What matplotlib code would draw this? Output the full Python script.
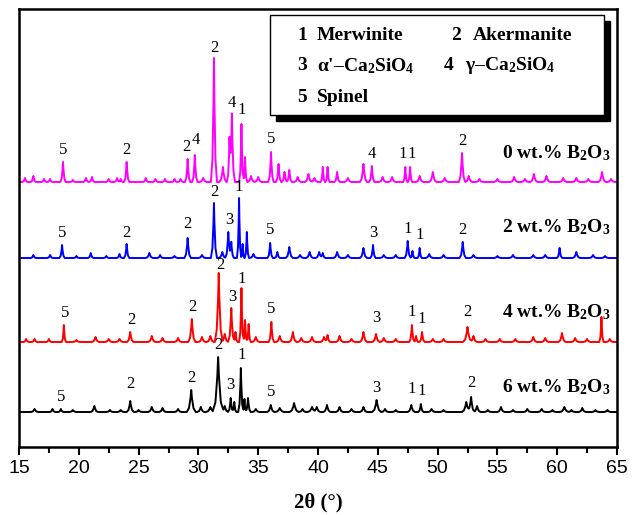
import matplotlib
matplotlib.use('Agg')
import matplotlib.pyplot as plt
import numpy as np
from matplotlib.patches import Rectangle
from matplotlib.ticker import MultipleLocator

plt.rcParams['font.family'] = ['Liberation Serif', 'DejaVu Serif']
plt.rcParams['mathtext.fontset'] = 'custom'
plt.rcParams['mathtext.rm'] = 'Liberation Serif:bold'
plt.rcParams['mathtext.it'] = 'Liberation Serif:bold:italic'
plt.rcParams['mathtext.bf'] = 'Liberation Serif:bold'

# * peaks: (2theta, height, half width)
peaks_0 = [
  (15.5, 4, .15), (16.2, 6, .15), (17.1, 3, .15), (17.6, 3, .15), (18.68, 20, .15), (19.5, 2, .15),
  (20.6, 4, .15), (21.1, 5, .15), (22.5, 3, .15), (23.2, 4, .15), (23.5, 3, .12), (24.0, 20, .15),
  (25.6, 4, .15), (26.4, 3, .15), (27.2, 3, .15), (28.0, 3, .15), (28.5, 3, .15), (29.1, 23, .15),
  (29.7, 27, .15), (30.4, 4, .2), (31.3, 124, .17), (32.05, 15, .2), (32.6, 40, .15), (32.8, 67, .17),
  (33.6, 58, .13), (33.9, 25, .12), (34.4, 6, .2), (35.0, 5, .2), (36.07, 30, .15), (36.7, 18, .15),
  (37.2, 10, .15), (37.6, 12, .15), (38.3, 5, .2), (39.2, 8, .2), (39.7, 4, .2), (40.4, 15, .12),
  (40.8, 15, .12), (41.6, 10, .15), (42.5, 4, .2), (43.8, 18, .2), (44.5, 16, .15), (45.4, 5, .2),
  (46.2, 5, .2), (47.3, 15, .12), (47.7, 15, .12), (48.5, 6, .2), (49.6, 10, .2), (50.6, 4, .2),
  (52.04, 29, .18), (52.6, 6, .2), (53.5, 3, .2), (55.0, 3, .2), (56.4, 5, .2), (57.3, 3, .2),
  (58.05, 8, .2), (59.1, 6, .2), (60.5, 4, .2), (61.6, 4, .2), (62.6, 3, .2), (63.75, 10, .2), (64.5, 3, .2),
]
peaks_2 = [
  (16.2, 3, .15), (17.6, 3, .15), (18.6, 13, .15), (19.8, 2, .15), (21.0, 5, .15), (22.3, 2, .15),
  (23.4, 4, .15), (24.0, 14, .15), (25.9, 5, .2), (26.8, 3, .15), (28.0, 2, .2), (29.1, 20, .18),
  (30.3, 3, .2), (31.3, 55, .17), (32.0, 6, .2), (32.5, 26, .17), (32.75, 16, .15), (33.4, 60, .12),
  (33.7, 14, .1), (34.05, 26, .12), (34.6, 4, .2), (36.0, 15, .15), (36.6, 6, .15), (37.6, 11, .2),
  (38.5, 3, .2), (39.3, 6, .2), (40.1, 6, .2), (40.4, 5, .15), (41.6, 6, .2), (42.5, 3, .2),
  (43.8, 10, .2), (44.6, 13, .15), (45.5, 3, .2), (46.5, 3, .2), (47.5, 17, .17), (47.9, 7, .12),
  (48.5, 10, .12), (49.3, 4, .2), (50.5, 3, .2), (52.1, 16, .18), (53.0, 3, .2), (55.0, 2, .2),
  (56.3, 3, .2), (58.0, 3, .2), (59.0, 3, .2), (60.2, 10, .15), (61.6, 6, .2), (63.0, 3, .2), (64.0, 2, .2),
]
peaks_4 = [
  (15.6, 3, .15), (16.3, 3, .15), (17.5, 3, .15), (18.75, 17, .12), (19.8, 2, .2), (21.4, 5, .2),
  (22.5, 3, .2), (23.4, 3, .2), (24.3, 10, .18), (26.1, 6, .2), (27.0, 4, .2), (28.3, 4, .2),
  (29.45, 23, .2), (30.3, 5, .2), (31.0, 6, .2), (31.7, 69, .22), (32.2, 8, .2), (32.75, 34, .18),
  (33.1, 10, .12), (33.6, 54, .13), (33.9, 22, .12), (34.2, 18, .12), (34.8, 5, .2), (36.1, 20, .15),
  (36.8, 6, .2), (37.9, 10, .2), (38.6, 4, .2), (39.5, 5, .2), (40.5, 5, .2), (40.8, 7, .15),
  (41.8, 6, .2), (42.8, 3, .2), (43.8, 10, .2), (44.85, 8, .2), (45.5, 4, .2), (46.5, 3, .2),
  (47.85, 17, .15), (48.2, 6, .12), (48.7, 10, .15), (49.6, 3, .2), (50.5, 3, .2), (52.5, 15, .25),
  (53.0, 6, .2), (54.0, 3, .2), (55.2, 3, .2), (56.5, 3, .2), (58.0, 5, .2), (59.0, 4, .2),
  (60.4, 9, .2), (61.5, 4, .2), (62.5, 3, .2), (63.7, 25, .12), (64.4, 3, .2),
]
peaks_6 = [
  (16.3, 3, .2), (17.8, 3, .15), (18.5, 3, .15), (19.5, 2, .2), (21.3, 6, .2), (22.6, 2, .2),
  (23.5, 2, .2), (24.3, 11, .2), (25.0, 2, .2), (26.1, 5, .2), (27.0, 4, .2), (28.3, 3, .2),
  (29.4, 22, .25), (30.2, 5, .2), (31.0, 5, .25), (31.65, 55, .3), (32.2, 6, .2), (32.7, 14, .15),
  (33.0, 10, .12), (33.55, 44, .15), (33.85, 13, .1), (34.15, 14, .15), (34.8, 3, .2), (36.05, 7, .2),
  (36.8, 4, .25), (38.0, 9, .25), (38.7, 3, .2), (39.5, 5, .25), (39.9, 5, .2), (40.75, 7, .2),
  (41.8, 5, .2), (42.8, 3, .2), (43.8, 5, .2), (44.9, 12, .25), (45.6, 3, .2), (46.5, 2, .2),
  (47.8, 7, .2), (48.6, 8, .15), (49.5, 3, .2), (50.5, 2, .2), (52.4, 10, .25), (52.8, 15, .2),
  (53.3, 6, .2), (54.2, 2, .2), (55.3, 5, .2), (56.3, 2, .2), (57.5, 3, .2), (58.7, 3, .2),
  (59.6, 2, .2), (60.6, 5, .25), (61.2, 2, .2), (62.1, 4, .2), (63.2, 2, .2), (64.2, 2, .2),
]

# * phase labels: (2theta, height above baseline, text)
labels_0 = [(18.68, 24, '5'), (24.0, 24, '2'), (29.0, 27, '2'), (29.75, 34, '4'), (31.3, 126, '2'),
  (32.8, 71, '4'), (33.65, 64, '1'), (36.07, 35, '5'), (44.5, 20, '4'), (47.1, 20, '1'),
  (47.8, 20, '1'), (52.04, 33, '2')]
labels_2 = [(18.6, 17, '5'), (24.0, 17, '2'), (29.1, 26, '2'), (31.3, 58, '2'), (32.55, 30, '3'),
  (33.4, 63, '1'), (36.0, 20, '5'), (44.6, 17, '3'), (47.5, 21, '1'), (48.5, 15, '1'), (52.1, 20, '2')]
labels_4 = [(18.85, 21, '5'), (24.4, 14, '2'), (29.5, 27, '2'), (31.8, 69, '2'), (32.8, 37, '3'),
  (33.6, 55, '1'), (36.1, 25, '5'), (44.9, 16, '3'), (47.85, 22, '1'), (48.7, 15, '1'), (52.5, 22, '2')]
labels_6 = [(18.5, 7, '5'), (24.3, 20, '2'), (29.4, 26, '2'), (31.65, 59, '2'), (32.7, 19, '3'),
  (33.6, 49, '1'), (36.05, 12, '5'), (44.9, 16, '3'), (47.85, 15, '1'), (48.7, 13, '1'), (52.8, 21, '2')]

sample_names = ['0 wt.% B$_2$O$_3$', '2 wt.% B$_2$O$_3$', '4 wt.% B$_2$O$_3$', '6 wt.% B$_2$O$_3$']
colors = ['#ff00ff', '#0000ff', '#ff0000', '#000000']
offsets = [265, 189, 105, 35]
name_y = [294, 220, 135, 60]


def make_trace(peaks):
  # peak outline: wider foot, narrow top
  xs = [15.0, 65.0]
  shapes = []
  for p, h, w in peaks:
    w = w * 1.5
    px = [p - w, p - w * 0.5, p - w * 0.15, p, p + w * 0.15, p + w * 0.5, p + w]
    py = [0, h * 0.18, h * 0.65, h, h * 0.65, h * 0.18, 0]
    xs += px
    shapes.append((px, py))
  xs = np.array(sorted(set(xs)))
  ys = np.zeros_like(xs)
  for px, py in shapes:
    ys += np.interp(xs, px, py, left=0, right=0)
  return xs, ys


fig = plt.figure(figsize=(6.39, 5.15), dpi=100)
ax = fig.add_axes([19 / 639, 68 / 515, 598 / 639, 438 / 515])

all_peaks = [peaks_0, peaks_2, peaks_4, peaks_6]
all_labels = [labels_0, labels_2, labels_4, labels_6]
for peaks, labs, col, off, name, ny in zip(all_peaks, all_labels, colors, offsets, sample_names, name_y):
  x, y = make_trace(peaks)
  ax.plot(x, y + off, color=col, lw=1.4)
  for lx, ly, t in labs:
    ax.text(lx, off + ly, t, ha='center', va='bottom', fontsize=12)
  ax.text(55.4, ny, name, ha='left', va='center', fontsize=14, fontweight='bold')

ax.set_xlim(15, 65)
ax.set_ylim(0, 438)
ax.set_yticks([])
ax.xaxis.set_major_locator(MultipleLocator(5))
ax.xaxis.set_minor_locator(MultipleLocator(2.5))
ax.tick_params(axis='x', which='major', direction='out', length=6, width=1.5, labelsize=14)
ax.tick_params(axis='x', which='minor', direction='out', length=4, width=1.5)
for lab in ax.get_xticklabels():
  lab.set_fontfamily('Liberation Sans')
for s in ax.spines.values():
  s.set_linewidth(1.8)
ax.set_xlabel('2θ (°)', fontsize=15, fontweight='bold', labelpad=11)

# * legend box with shadow
def px2ax(px, py):
  return (px - 19) / 598, (447 - py) / 438

x0, y0 = px2ax(276, 121)
x1, y1 = px2ax(610, 21)
ax.add_patch(Rectangle((x0, y0), x1 - x0, y1 - y0, transform=ax.transAxes, facecolor='black',
  edgecolor='black', zorder=5))
x0, y0 = px2ax(270, 115)
x1, y1 = px2ax(604, 15)
ax.add_patch(Rectangle((x0, y0), x1 - x0, y1 - y0, transform=ax.transAxes, facecolor='white',
  edgecolor='black', lw=1, zorder=6))

legend_rows = [
  [('1', 302, 'Merwinite', 317), ('2', 456, 'Akermanite', 473)],
  [('3', 302, "α'–Ca$_2$SiO$_4$", 317), ('4', 449, 'γ–Ca$_2$SiO$_4$', 465)],
  [('5', 302, 'Spinel', 317)],
]
row_y = [36, 66, 97]
for row, ry in zip(legend_rows, row_y):
  for num, nx, txt, tx in row:
    ax.text(*px2ax(nx, ry), num, transform=ax.transAxes, ha='center', va='center',
      fontsize=14, fontweight='bold', zorder=7)
    ax.text(*px2ax(tx, ry), txt, transform=ax.transAxes, ha='left', va='center',
      fontsize=14, fontweight='bold', zorder=7)

fig.savefig('out.png', dpi=100)
